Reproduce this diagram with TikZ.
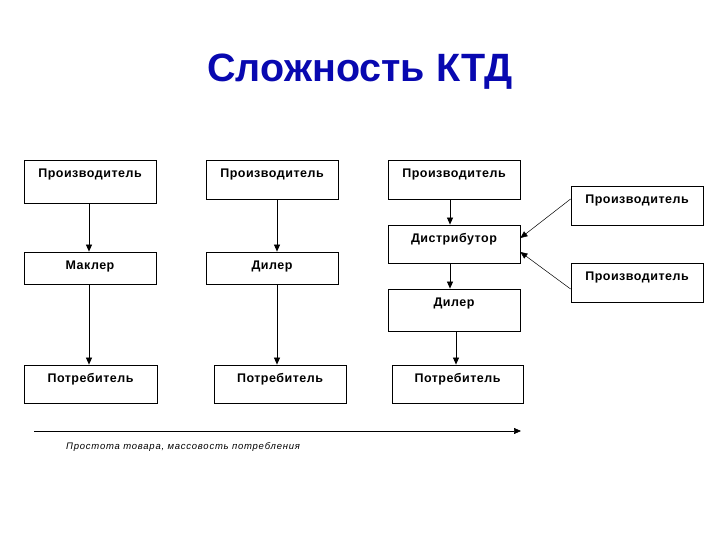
\documentclass[tikz,border=0pt]{standalone}
\usepackage{fontspec}
\setmainfont{Liberation Sans}
\usetikzlibrary{arrows.meta}
\definecolor{titleblue}{RGB}{8,8,176}
\begin{document}
\begin{tikzpicture}[x=1pt,y=-1pt,
  box/.style={draw, line width=0.8pt, inner sep=0pt},
  txt/.style={font=\fontsize{12.5}{14}\selectfont\bfseries\addfontfeatures{LetterSpace=4}, anchor=center, yshift=-15pt, inner sep=0pt},
  arr/.style={line width=0.7pt, -{Triangle[length=7pt,width=6pt]}},
  thin arr/.style={line width=0.5pt, -{Triangle[length=7pt,width=6pt]}}
]
\useasboundingbox (0,0) rectangle (720,540);
\node[font=\fontsize{39.5}{46}\selectfont\bfseries, text=titleblue, inner sep=0pt] (title) at (360,72) {Сложность КТД};
% column 1
\node[box, minimum width=132pt, minimum height=43pt, label={[txt]north:Производитель}] (p1) at (90,181.5) {};
\node[box, minimum width=132pt, minimum height=32pt, label={[txt]north:Маклер}] (m1) at (90,268) {};
\node[box, minimum width=133pt, minimum height=38pt, label={[txt]north:Потребитель}] (c1) at (90.5,384) {};
% column 2
\node[box, minimum width=132pt, minimum height=39pt, label={[txt]north:Производитель}] (p2) at (272,179.5) {};
\node[box, minimum width=132pt, minimum height=32pt, label={[txt]north:Дилер}] (d2) at (272,268) {};
\node[box, minimum width=132pt, minimum height=38pt, label={[txt]north:Потребитель}] (c2) at (280,384) {};
% column 3
\node[box, minimum width=132pt, minimum height=39pt, label={[txt]north:Производитель}] (p3) at (454,179.5) {};
\node[box, minimum width=132pt, minimum height=38pt, label={[txt]north:Дистрибутор}] (ds3) at (454,244) {};
\node[box, minimum width=132pt, minimum height=42pt, label={[txt]north:Дилер}] (d3) at (454,310) {};
\node[box, minimum width=131pt, minimum height=38pt, label={[txt]north:Потребитель}] (c3) at (457.5,384) {};
% right producers
\node[box, minimum width=132pt, minimum height=39pt, label={[txt]north:Производитель}] (pa) at (637,205.5) {};
\node[box, minimum width=132pt, minimum height=39pt, label={[txt]north:Производитель}] (pb) at (637,282.5) {};
% connectors
\draw[arr] (p1.south -| 89,0) -- (m1.north -| 89,0);
\draw[arr] (m1.south -| 89,0) -- (c1.north -| 89,0);
\draw[arr] (p2.south -| 277,0) -- (d2.north -| 277,0);
\draw[arr] (d2.south -| 277,0) -- (c2.north -| 277,0);
\draw[arr] (p3.south -| 450,0) -- (ds3.north -| 450,0);
\draw[arr] (ds3.south -| 450,0) -- (d3.north -| 450,0);
\draw[arr] (d3.south -| 456,0) -- (c3.north -| 456,0);
\coordinate (pa w) at ([yshift=6.5pt]pa.west);
\coordinate (pb w) at ([yshift=-6.5pt]pb.west);
\coordinate (ds e1) at ([yshift=6pt]ds3.east);
\coordinate (ds e2) at ([yshift=-8pt]ds3.east);
\draw[thin arr] (pa w) -- (ds e1);
\draw[thin arr] (pb w) -- (ds e2);
% axis
\coordinate (ax0) at (34,431);
\coordinate (ax1) at (521,431);
\draw[arr] (ax0) -- (ax1);
\node[font=\fontsize{9.5}{11}\selectfont\itshape\addfontfeatures{LetterSpace=8}, anchor=west, inner sep=0pt] (axlab) at (66,447) {Простота товара, массовость потребления};
\end{tikzpicture}
\end{document}
